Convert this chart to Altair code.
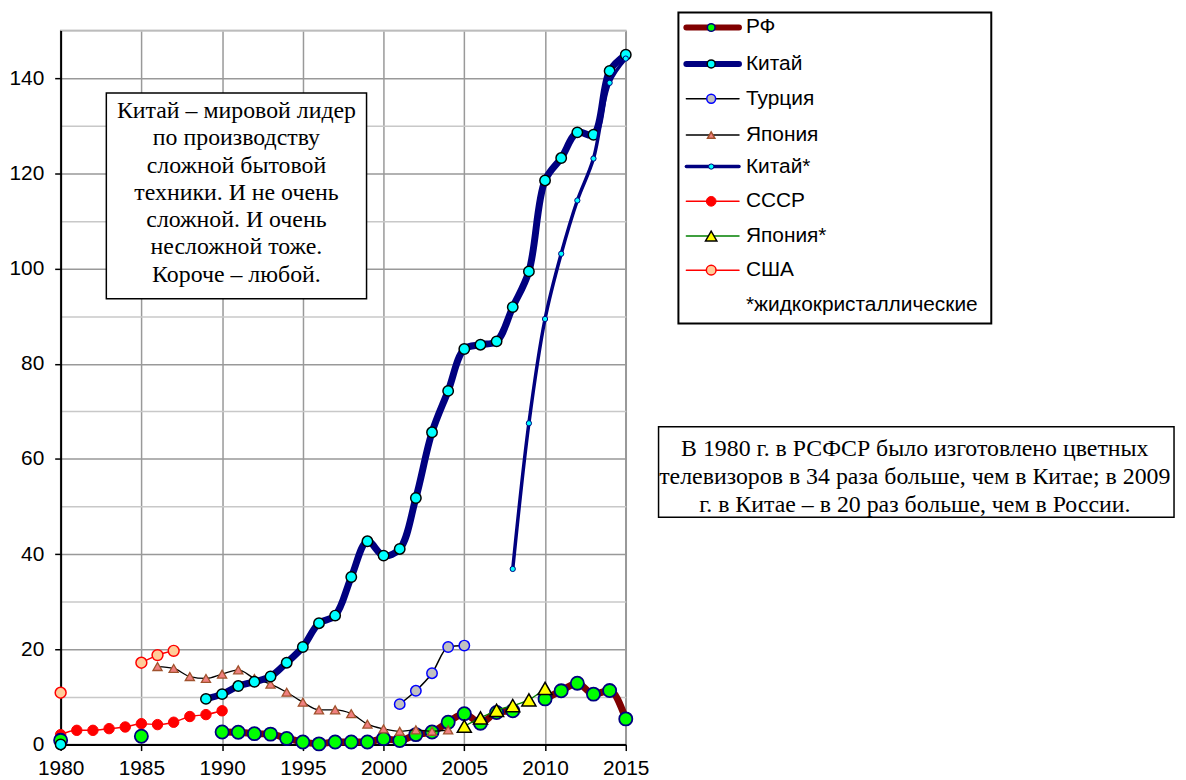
import altair as alt
import pandas as pd

# ---------------- data ----------------
rf_years = [1980, 1985, 1990, 1991, 1992, 1993, 1994, 1995, 1996, 1997, 1998, 1999,
            2000, 2001, 2002, 2003, 2004, 2005, 2006, 2007, 2008, 2010, 2011, 2012,
            2013, 2014, 2015]
rf_vals = [0.9, 1.75, 2.65, 2.6, 2.3, 2.2, 1.3, 0.55, 0.15, 0.55, 0.55, 0.55,
           1.25, 0.85, 2.1, 2.65, 4.7, 6.5, 4.5, 6.75, 7.1, 9.6, 11.3, 12.9,
           10.6, 11.35, 5.4]

cn_years = [1980] + list(range(1989, 2016))
cn_vals = [0.03, 9.6, 10.6, 12.3, 13.2, 14.3, 17.2, 20.5, 25.5, 27.1, 35.2, 42.7,
           39.7, 41.1, 51.8, 65.6, 74.3, 83.1, 84.0, 84.7, 91.9, 99.4, 118.5,
           123.2, 128.6, 128.1, 141.5, 144.9]

tr_years = [2001, 2002, 2003, 2004, 2005]
tr_vals = [8.5, 11.3, 15.0, 20.5, 20.8]

jp_years = list(range(1986, 2005))
jp_vals = [16.4, 16.0, 14.3, 13.9, 14.8, 15.7, 13.9, 12.7, 11.0, 8.9, 7.3, 7.3,
           6.5, 4.3, 3.3, 2.8, 3.1, 2.8, 3.1]

cnl_years = list(range(2008, 2016))
cnl_vals = [36.9, 67.5, 89.4, 103.1, 114.3, 123.1, 139.0, 144.1]

su_years = list(range(1980, 1991))
su_vals = [2.1, 3.0, 3.0, 3.35, 3.7, 4.4, 4.2, 4.7, 5.9, 6.3, 7.1]

jpl_years = list(range(2005, 2011))
jpl_vals = [3.85, 5.6, 7.2, 8.2, 9.4, 11.8]

us_years = [1980, 1985, 1986, 1987]
us_vals = [10.9, 17.2, 18.8, 19.7]

trend_years = [1979.5, 1981, 1983, 1985, 1986.5, 1987.9]
trend_vals = [2.1, 2.4, 3.5, 4.9, 6.3, 7.9]

legend_names = ["РФ", "Китай", "Турция", "Япония", "Китай*", "СССР", "Япония*",
                "США", "*жидкокристаллические"]

note1 = ["Китай – мировой лидер", "по производству", "сложной бытовой",
         "техники. И не очень", "сложной. И очень", "несложной тоже.",
         "Короче – любой."]
note2 = ["В 1980 г. в РСФСР было изготовлено цветных",
         "телевизоров в 34 раза больше, чем в Китае; в 2009",
         "г. в Китае – в 20 раз больше, чем в России."]

# ---------------- helpers ----------------
def frame(years, vals):
    segs, seg, prev = [], 0, None
    for yr in years:
        if prev is not None and yr - prev > 1:
            seg += 1
        segs.append(seg)
        prev = yr
    return pd.DataFrame({"year": years, "value": vals, "seg": segs})


SANS = "Liberation Sans"
SERIF = "Liberation Serif"

X = alt.X("year:Q",
          scale=alt.Scale(domain=[1980, 2015], nice=False, zero=False),
          axis=alt.Axis(values=list(range(1980, 2016, 5)), format="d", title=None,
                        grid=True, gridColor="#999999", gridWidth=1.5,
                        domainColor="black", domainWidth=2, tickColor="black",
                        tickWidth=1.5, tickSize=6, labelPadding=7,
                        labelFlush=False, labelOverlap=False, labelBound=False,
                        labelFont=SANS, labelFontSize=21, labelColor="black"))
Y = alt.Y("value:Q",
          scale=alt.Scale(domain=[0, 150], nice=False, zero=True),
          axis=alt.Axis(values=list(range(0, 151, 10)), title=None,
                        labelExpr="datum.value % 20 === 0 ? datum.label : ''",
                        grid=True,
                        gridColor={"condition": {"test": "datum.value % 20 === 0",
                                                 "value": "#999999"},
                                   "value": "#c8c8c8"},
                        gridWidth=1.5,
                        tickOpacity={"condition": {"test": "datum.value % 20 === 0",
                                                   "value": 1}, "value": 0},
                        domainColor="black", domainWidth=2, tickColor="black",
                        tickWidth=1.5, tickSize=6, labelPadding=11,
                        labelFlush=False, labelOverlap=False,
                        labelFont=SANS, labelFontSize=21, labelColor="black"))


def series(years, vals, line_color, line_w, shape, fill, stroke, size, stroke_w,
           interp="monotone", points=True):
    df = frame(years, vals)
    out = [alt.Chart(df).mark_line(color=line_color, strokeWidth=line_w,
                                   interpolate=interp, clip=False)
           .encode(x=X, y=Y, detail="seg:N")]
    if points:
        out.append(alt.Chart(df).mark_point(shape=shape, filled=True, fill=fill,
                                            stroke=stroke, strokeWidth=stroke_w,
                                            size=size, opacity=1)
                   .encode(x=X, y=Y))
    return out


layers = []
layers += series(su_years, su_vals, "#ff0000", 1.5, "circle", "#ff0000", "#ff0000", 110, 1)
layers += series(us_years, us_vals, "#ff0000", 1.5, "circle", "#ffcc99", "#ff0000", 120, 1.5)
layers += series(rf_years, rf_vals, "#800000", 7, "circle", "#00ff00", "#000080", 175, 1.8)
layers += series(jp_years, jp_vals, "black", 1.3, "triangle-up", "#f08080", "#a0522d", 85, 1.3)
layers += series(tr_years, tr_vals, "black", 1.5, "circle", "#c0c0c0", "#0000ff", 110, 1.5)
layers += series(jpl_years, jpl_vals, "#008000", 1.3, "triangle-up", "#ffff00", "black", 200, 1.5)
layers += series(trend_years, trend_vals, "#000080", 3, "circle", "", "", 0, 0,
                 interp="monotone", points=False)
layers += series(cn_years, cn_vals, "#000080", 7, "circle", "#00ffff", "black", 110, 1.5,
                 interp="catmull-rom")
layers += series(cnl_years, cnl_vals, "#000080", 3.5, "circle", "#00ffff", "#000080", 28, 1,
                 interp="catmull-rom")

one = pd.DataFrame({"k": [0]})

# offsets: view origin is at page (61, 28)
OX, OY = 61, 28


def box(x1, x2, y1, y2, sw=1.5):
    return alt.Chart(one).mark_rect(fill="white", stroke="black", strokeWidth=sw).encode(
        x=alt.value(x1 - OX), x2=alt.value(x2 - OX),
        y=alt.value(y1 - OY), y2=alt.value(y2 - OY))


def text_line(s, x, y, font, size, align="center"):
    return alt.Chart(one).mark_text(font=font, fontSize=size, align=align,
                                    baseline="middle", color="black").encode(
        x=alt.value(x - OX), y=alt.value(y - OY), text=alt.value(s))


# text box 1
layers.append(box(107, 369, 91, 298))
for i, s in enumerate(note1):
    layers.append(text_line(s, 238, 109 + i * 27.5, SERIF, 24))

# text box 2
layers.append(box(663, 1182, 427, 518))
for i, s in enumerate(note2):
    layers.append(text_line(s, 921, 449 + i * 28.3, SERIF, 24))

# legend
layers.append(box(683, 998, 10, 323, sw=2))
leg_y = [25, 61.7, 96.7, 133.3, 165, 200, 235, 269.3, 304]
leg_style = [
    ("#800000", 6, "circle", "#00ff00", "#000080", 60, 1.5),
    ("#000080", 6, "circle", "#00ffff", "black", 65, 1.5),
    ("black", 1.5, "circle", "#c0c0c0", "#0000ff", 80, 1.5),
    ("black", 1.5, "triangle-up", "#f08080", "#a0522d", 55, 1.5),
    ("#000080", 3.5, "circle", "#00ffff", "#000080", 28, 1),
    ("#ff0000", 1.5, "circle", "#ff0000", "#ff0000", 95, 1),
    ("#008000", 1.5, "triangle-up", "#ffff00", "black", 130, 1.5),
    ("#ff0000", 1.5, "circle", "#ffcc99", "#ff0000", 95, 1.5),
]
for i, name in enumerate(legend_names):
    yy = leg_y[i] - OY
    if i < len(leg_style):
        lc, lw, shp, fl, st, sz, sw = leg_style[i]
        layers.append(alt.Chart(one).mark_rule(color=lc, strokeWidth=lw, strokeCap="round")
                      .encode(x=alt.value(691 - OX), x2=alt.value(744 - OX), y=alt.value(yy)))
        layers.append(alt.Chart(one).mark_point(shape=shp, filled=True, fill=fl, stroke=st,
                                                strokeWidth=sw, size=sz, opacity=1)
                      .encode(x=alt.value(716 - OX), y=alt.value(yy)))
    layers.append(text_line(name, 751, leg_y[i], SANS, 21, align="left"))

chart = alt.layer(*layers).properties(
    width=569, height=719,
    padding={"left": 53, "top": 20, "right": 556, "bottom": 33},
    autosize=alt.AutoSizeParams(type="none"),
    background="white",
).configure_view(stroke="#999999", strokeWidth=1.5)

chart.save("out.html", embed_options={"renderer": "svg", "actions": False})
